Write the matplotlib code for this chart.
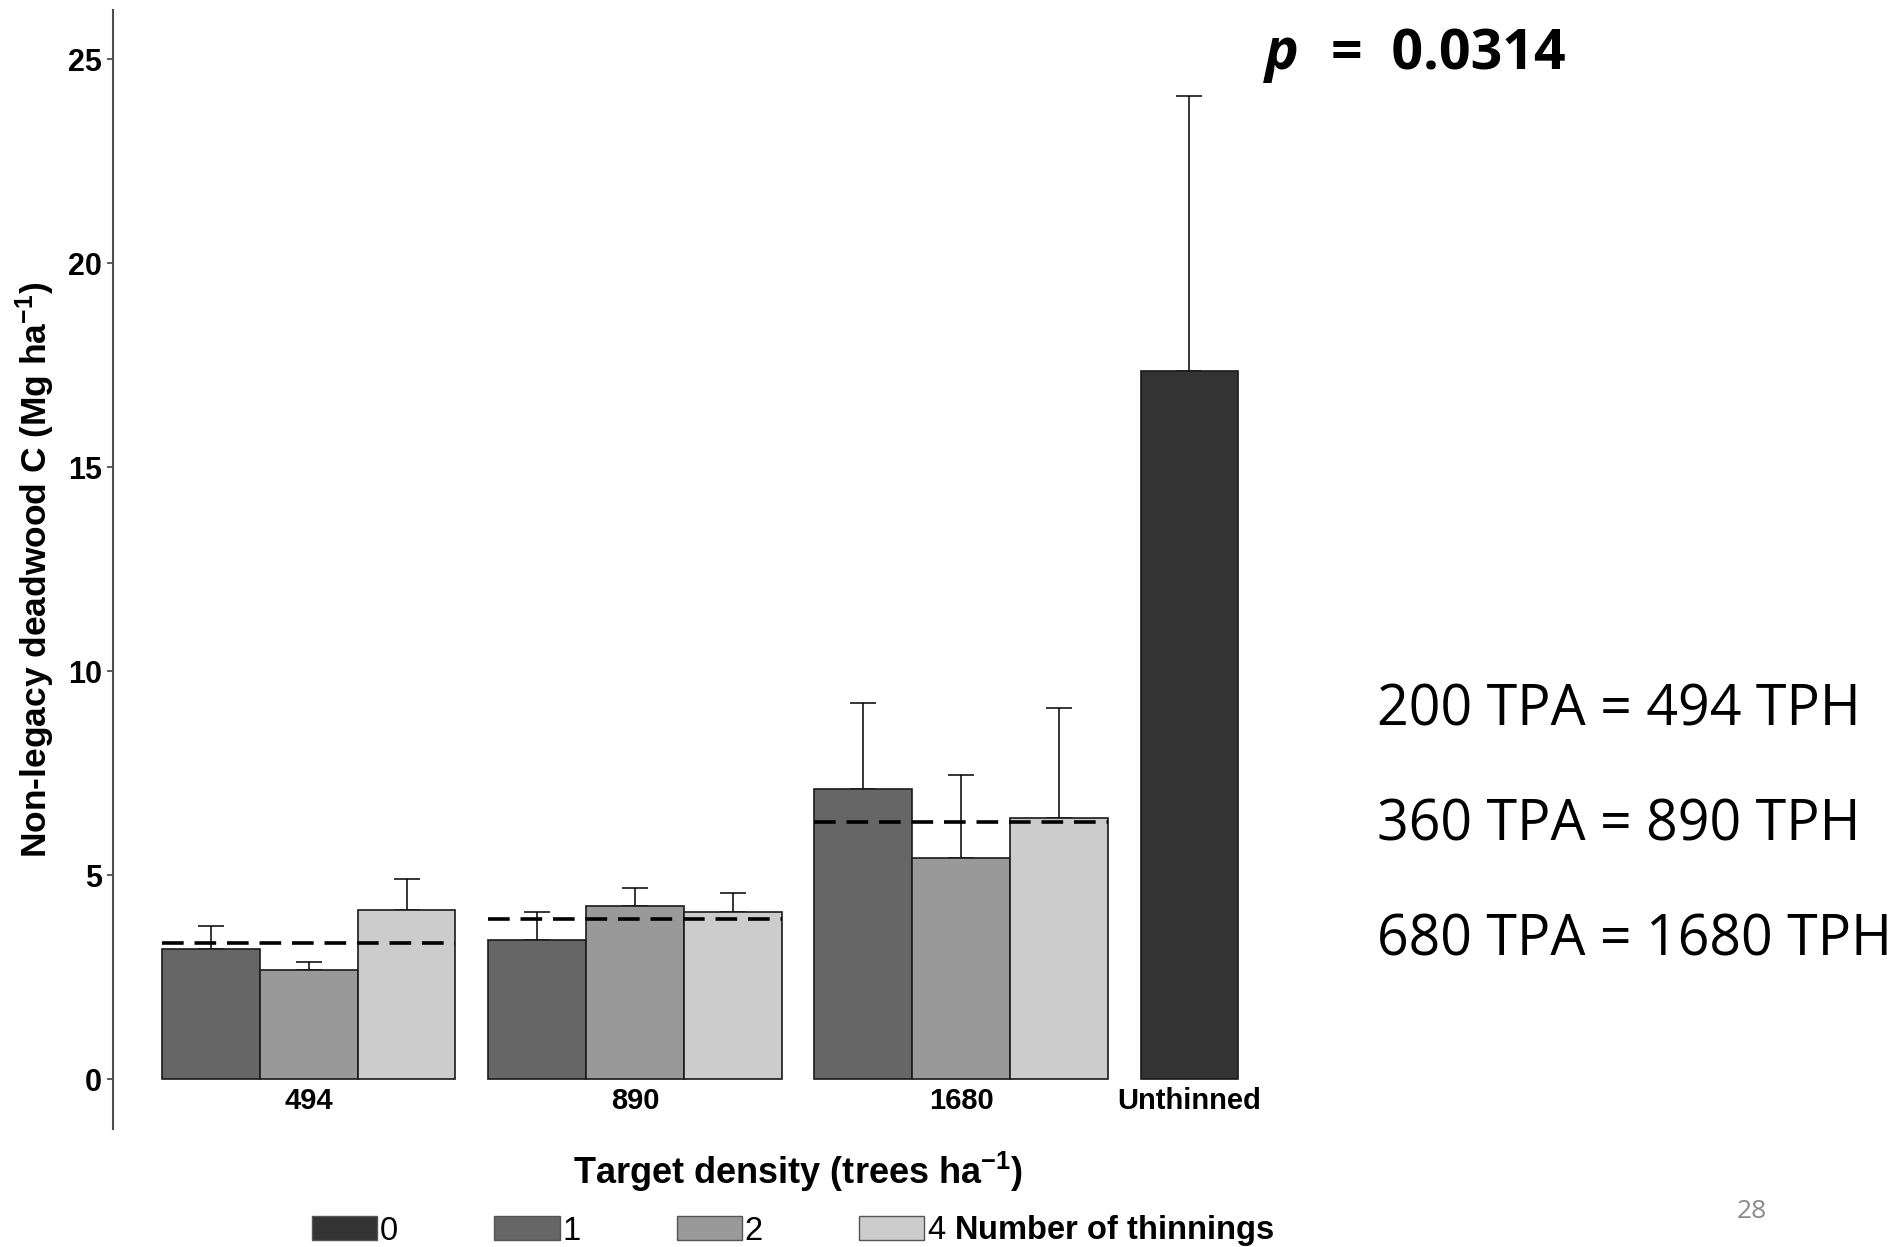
import numpy as np
import matplotlib
matplotlib.use("Agg")
import matplotlib.pyplot as plt
from matplotlib.patches import Patch

plt.rcParams["font.family"] = ["Liberation Sans", "DejaVu Sans"]
plt.rcParams["mathtext.fontset"] = "custom"
plt.rcParams["mathtext.rm"] = "Liberation Sans"
plt.rcParams["mathtext.it"] = "Liberation Sans:italic"
plt.rcParams["mathtext.bf"] = "Liberation Sans:bold"

# ---- data ----
densities = ["494", "890", "1680"]
unthinned_label = "Unthinned"
thinning_levels = ["0", "1", "2", "4"]
level_colors = ["#333333", "#666666", "#999999", "#cccccc"]

# mean non-legacy deadwood C (Mg/ha) per density, for 1, 2 and 4 thinnings
mean_1 = [3.19, 3.42, 7.12]
mean_2 = [2.69, 4.25, 5.43]
mean_4 = [4.15, 4.10, 6.40]
# standard errors (upper bars only)
se_1 = [0.56, 0.69, 2.10]
se_2 = [0.18, 0.45, 2.04]
se_4 = [0.77, 0.46, 2.71]

unthinned_mean = 17.37
unthinned_se = 6.72

p_value = "0.0314"
conversions = ["200 TPA = 494 TPH", "360 TPA = 890 TPH", "680 TPA = 1680 TPH"]
slide_number = "28"

# ---- figure ----
W, H = 1897, 1247
fig = plt.figure(figsize=(W / 100, H / 100), dpi=100)
ax = fig.add_axes([113 / W, 1 - 1129 / H, (1483 - 113) / W, (1129 - 10) / H])

group_step = 10 / 3
centers = np.arange(len(densities)) * group_step
unthinned_x = 9.0
bar_w = 1.0
edge = "#1a1a1a"

means = [mean_1, mean_2, mean_4]
ses = [se_1, se_2, se_4]
for k, (m, s) in enumerate(zip(means, ses)):
    xs = centers + (k - 1) * bar_w
    ax.bar(xs, m, width=bar_w, color=level_colors[k + 1], edgecolor=edge,
           linewidth=1.2, zorder=2)
    ax.errorbar(xs, m, yerr=[np.zeros(len(m)), s], fmt="none", ecolor="black",
                elinewidth=1.1, capsize=9.7, capthick=1.1, zorder=1)

ax.bar([unthinned_x], [unthinned_mean], width=bar_w, color=level_colors[0],
       edgecolor=edge, linewidth=1.2, zorder=2)
ax.errorbar([unthinned_x], [unthinned_mean], yerr=[[0], [unthinned_se]],
            fmt="none", ecolor="black", elinewidth=1.1, capsize=9.7,
            capthick=1.1, zorder=1)

# dashed line at each density's mean across thinning levels
group_means = np.mean(np.array(means), axis=0)
ax.hlines(group_means, centers - 1.5 * bar_w, centers + 1.5 * bar_w,
          colors="black", linestyles=(0, (6.0, 3.0)), linewidth=2.6, zorder=3)

ax.set_xlim(-2, 12)
ax.set_ylim(-1.218, 26.21)

for side in ["top", "right", "bottom"]:
    ax.spines[side].set_visible(False)
ax.spines["left"].set_color("#4d4d4d")
ax.spines["left"].set_linewidth(1.5)

ax.set_yticks([0, 5, 10, 15, 20, 25])
ax.tick_params(axis="y", length=4.3, width=1.1, color="#333333", pad=3.6,
               labelsize=22)
for lbl in ax.get_yticklabels():
    lbl.set_fontweight("bold")

ax.set_xticks(list(centers) + [unthinned_x], densities + [unthinned_label])
ax.tick_params(axis="x", length=0, pad=-30, labelsize=21)
for lbl in ax.get_xticklabels():
    lbl.set_fontweight("bold")

ax.set_ylabel(r"Non-legacy deadwood C (Mg ha$^{\mathbf{-1}}$)", fontsize=25.5,
              fontweight="bold")
ax.yaxis.set_label_coords(-0.041, 0.5)
ax.set_xlabel(r"Target density (trees ha$^{\mathbf{-1}}$)", fontsize=26,
              fontweight="bold")
ax.xaxis.set_label_coords(0.5, -0.019)

handles = [Patch(facecolor=c, edgecolor="#555555", linewidth=1.0)
           for c in level_colors]
labels = thinning_levels[:-1] + [thinning_levels[-1] + r" $\mathbf{Number\ of\ thinnings}$"]
fig.legend(handles, labels, ncol=4, loc="center left",
           bbox_to_anchor=(312 / W, 1 - 1231 / H), frameon=False,
           fontsize=23.5, handlelength=2.0, handleheight=0.74,
           handletextpad=0.08, columnspacing=2.95, borderpad=0,
           borderaxespad=0)

# annotations on the right
fig.text(1265 / W, 1 - 69 / H, "p", fontsize=41, fontweight="bold",
         fontstyle="italic", family="Open Sans", va="baseline", ha="left")
fig.text(1331 / W, 1 - 69 / H, "=  " + p_value, fontsize=40,
         fontweight="bold", family="Open Sans", va="baseline", ha="left")

for i, line in enumerate(conversions):
    fig.text(1377 / W, 1 - (726 + i * 114.5) / H, line, fontsize=40,
             family="Open Sans", va="baseline", ha="left")

fig.text(1752 / W, 1 - 1218 / H, slide_number, fontsize=19, color="#898989",
         family="Open Sans", va="baseline", ha="center")

fig.savefig("out.png", dpi=100)
